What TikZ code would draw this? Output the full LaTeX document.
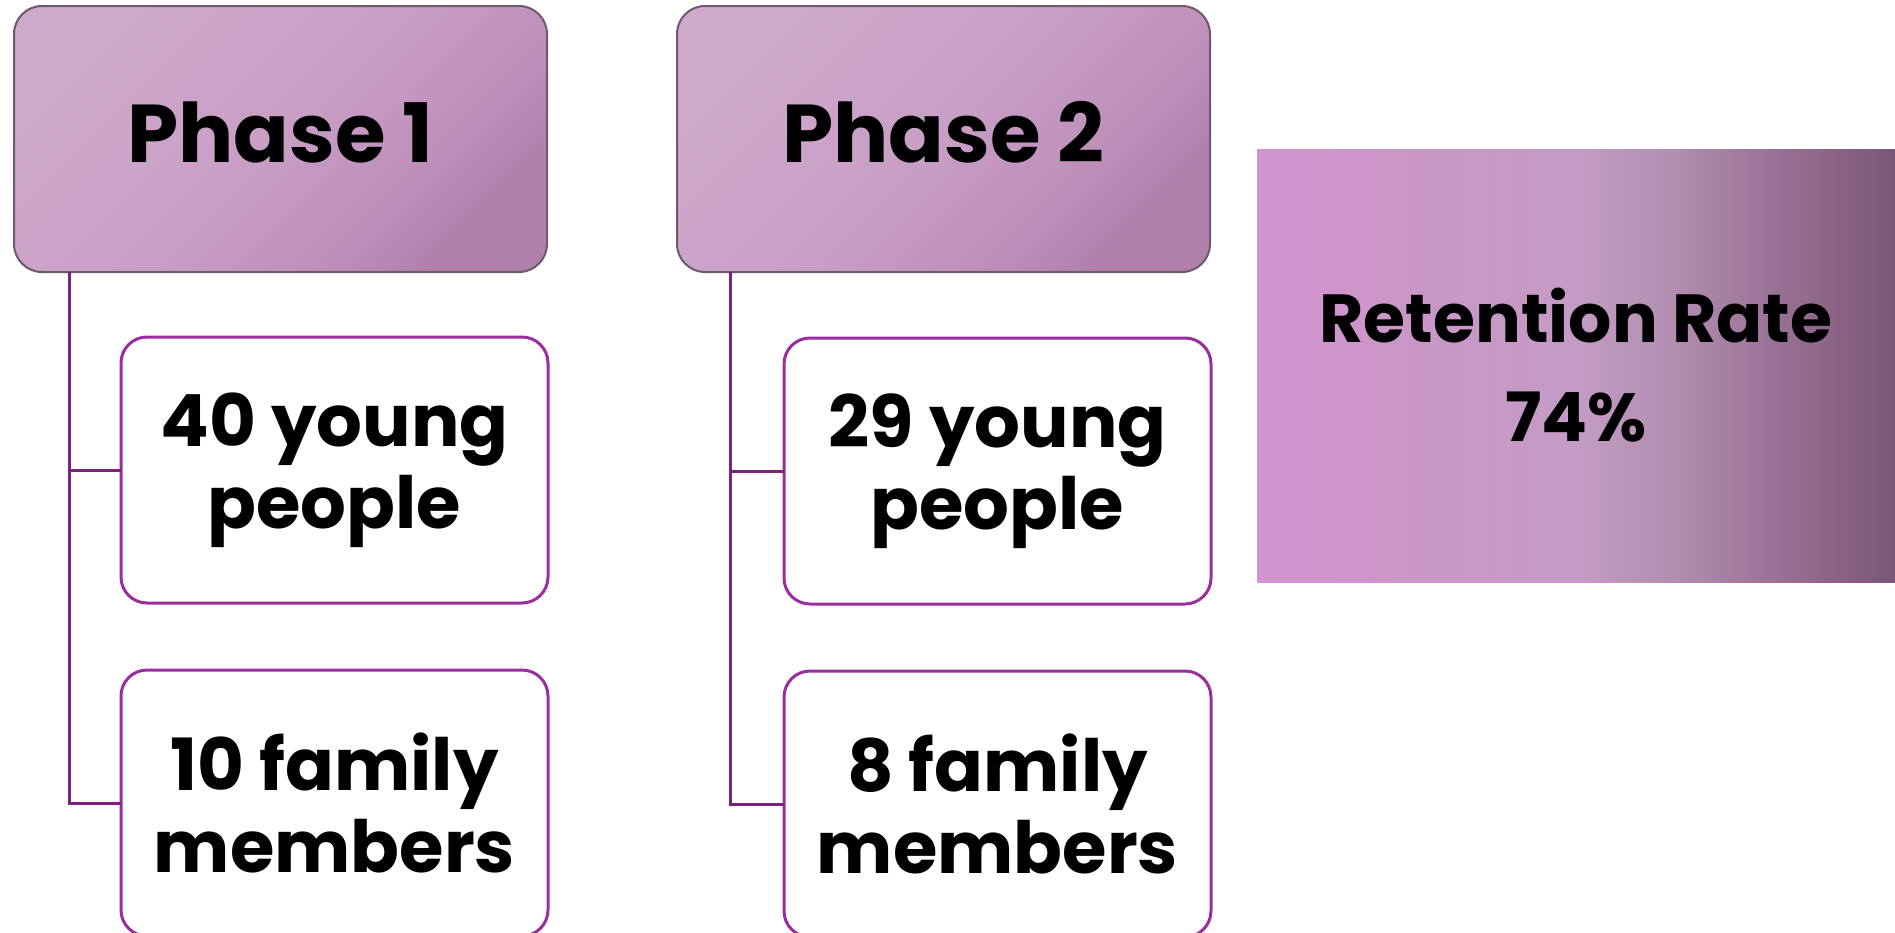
\documentclass[tikz,border=0pt]{standalone}
\usepackage{fontspec}
\setmainfont{Poppins}
\usepackage{xcolor}
\usepackage{tikz}
\usetikzlibrary{positioning,shapes}

\definecolor{phaseEdge}{HTML}{6E5A6C}
\definecolor{countEdge}{HTML}{9A2E9E}
\definecolor{treeLine}{HTML}{7A227D}
\definecolor{phaseA1}{HTML}{B080AB}
\definecolor{phaseA2}{HTML}{BE90BA}
\definecolor{phaseA3}{HTML}{C89EC5}
\definecolor{phaseA4}{HTML}{CFA9CC}
\definecolor{rateA1}{HTML}{D394D0}
\definecolor{rateA2}{HTML}{CA96C7}
\definecolor{rateA3}{HTML}{C49BC4}
\definecolor{rateA4}{HTML}{B38EB1}
\definecolor{rateA5}{HTML}{9B7398}
\definecolor{rateA6}{HTML}{7B5578}

\pgfdeclareverticalshading{phaseshade}{100bp}{%
    color(0bp)=(phaseA1); color(25bp)=(phaseA1);
    color(36bp)=(phaseA2); color(50bp)=(phaseA3);
    color(75bp)=(phaseA4); color(100bp)=(phaseA4)}
\pgfdeclarehorizontalshading{rateshade}{100bp}{%
    color(0bp)=(rateA1); color(25bp)=(rateA1);
    color(37.5bp)=(rateA2); color(50bp)=(rateA3);
    color(57.5bp)=(rateA4); color(65bp)=(rateA5);
    color(75bp)=(rateA6); color(100bp)=(rateA6)}

\begin{document}
\begin{tikzpicture}[x=0.5pt, y=-0.5pt,
    phase block/.style={rectangle, draw=phaseEdge, line width=1pt, rounded corners=14pt,
        shading=phaseshade, shading angle=45,
        minimum width=266.5pt, minimum height=133pt, outer sep=0pt, align=center,
        text depth=7pt, font=\bfseries\fontsize{41}{48}\selectfont},
    count block/.style={rectangle, draw=countEdge, line width=1.5pt, rounded corners=13pt,
        fill=white, minimum width=213.5pt, minimum height=133pt, outer sep=0pt, align=center,
        font=\bfseries\fontsize{36}{41}\selectfont},
    rate block/.style={rectangle, shading=rateshade,
        minimum width=319pt, minimum height=216.5pt, outer sep=0pt, align=center,
        font=\bfseries\fontsize{34}{49.5}\selectfont},
    tree line/.style={draw=treeLine, line width=1.5pt}]

    \useasboundingbox (0,0) rectangle (1895,932);

    \node [phase block] (phaseA) at (280.5,139) {Phase 1};
    \node [phase block, right=65pt of phaseA] (phaseB) {Phase 2};

    \node [count block, below=32.5pt of phaseA, xshift=27pt] (youngA) {40 young\\people};
    \node [count block, below=33.5pt of youngA] (familyA) {10 family\\members};

    \node [count block, below=33pt of phaseB, xshift=27pt] (youngB) {29 young\\people};
    \node [count block, below=33.5pt of youngB] (familyB) {8 family\\members};

    \draw [tree line] ([xshift=27.5pt]phaseA.south west) |- (youngA.west);
    \draw [tree line] ([xshift=27.5pt]phaseA.south west) |- (familyA.west);
    \draw [tree line] ([xshift=26.5pt]phaseB.south west) |- (youngB.west);
    \draw [tree line] ([xshift=26.5pt]phaseB.south west) |- (familyB.west);

    \node [rate block] (rate) at (1576,365.5) {Retention Rate\\74\%};

\end{tikzpicture}
\end{document}
